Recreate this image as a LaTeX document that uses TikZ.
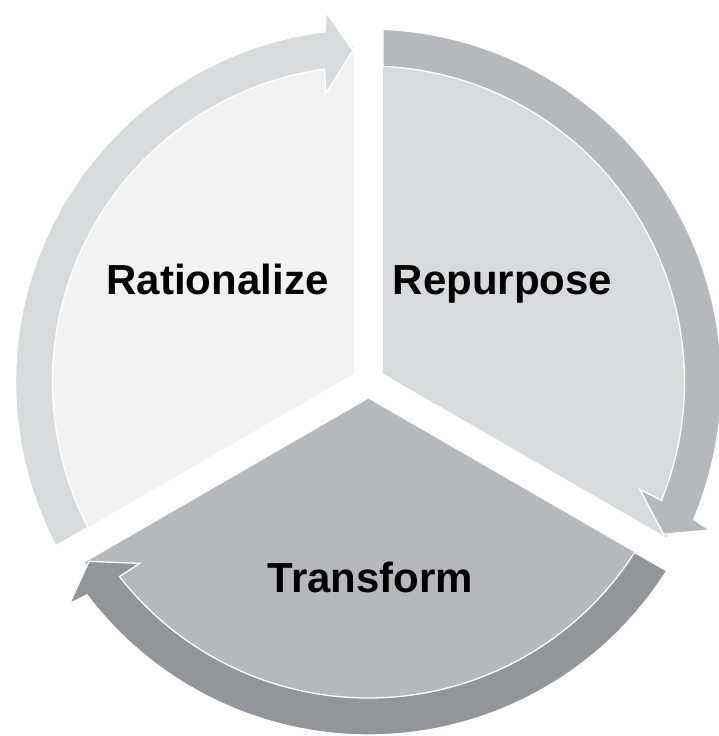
\documentclass[tikz,border=0pt]{standalone}
\usepackage{fontspec}
\setmainfont{Liberation Sans}
\usepackage{tikz}
\definecolor{ratfill}{HTML}{F2F2F2}
\definecolor{ratband}{HTML}{D9DADC}
\definecolor{repfill}{HTML}{D9DADC}
\definecolor{repband}{HTML}{B7B8BB}
\definecolor{trafill}{HTML}{B7B8BB}
\definecolor{traband}{HTML}{939598}

\begin{document}
\begin{tikzpicture}[x=1pt,y=1pt]
        \tikzstyle{sector}=[draw=none];
        \tikzstyle{band}=[draw=white, line width=1.3pt, line join=miter];
        \tikzstyle{word}=[font=\fontsize{42}{50}\selectfont\bfseries, anchor=base, inner sep=0pt];
        \useasboundingbox (-368.5,-354) rectangle (349.5,382);
        % the three pieces of the disc
        \fill[sector,ratfill] (150:16.74) -- (92.47:336) arc[start angle=92.47, end angle=207.53, radius=336] -- cycle;
        \begin{scope}[rotate=-120]
        \fill[sector,repfill] (150:16.74) -- (92.47:336) arc[start angle=92.47, end angle=207.53, radius=336] -- cycle;
        \end{scope}
        \begin{scope}[rotate=-240]
        \fill[sector,trafill] (150:16.74) -- (92.47:336) arc[start angle=92.47, end angle=207.53, radius=336] -- cycle;
        \end{scope}
        % arrows round the rim
        \filldraw[band,fill=ratband] (207.37:316) -- (207.65:353) arc[start angle=207.65, end angle=97.1, radius=353]
            -- (96.55:372) -- (92.7:332) -- (98.4:292) -- (98.0:316) arc[start angle=98.0, end angle=207.37, radius=316] -- cycle;
        \begin{scope}[rotate=-120]
        \filldraw[band,fill=repband] (207.37:316) -- (207.65:353) arc[start angle=207.65, end angle=97.1, radius=353]
            -- (96.55:372) -- (92.7:332) -- (98.4:292) -- (98.0:316) arc[start angle=98.0, end angle=207.37, radius=316] -- cycle;
        \end{scope}
        \begin{scope}[rotate=-240]
        \filldraw[band,fill=traband] (207.37:316) -- (207.65:353) arc[start angle=207.65, end angle=97.1, radius=353]
            -- (96.55:372) -- (92.7:332) -- (98.4:292) -- (98.0:316) arc[start angle=98.0, end angle=207.37, radius=316] -- cycle;
        \end{scope}
        \node[word] (rat) at (-151,87) {Rationalize};
        \node[word] (rep) at (134,87) {Repurpose};
        \node[word] (tra) at (2,-210) {Transform};
    \end{tikzpicture}
\end{document}
